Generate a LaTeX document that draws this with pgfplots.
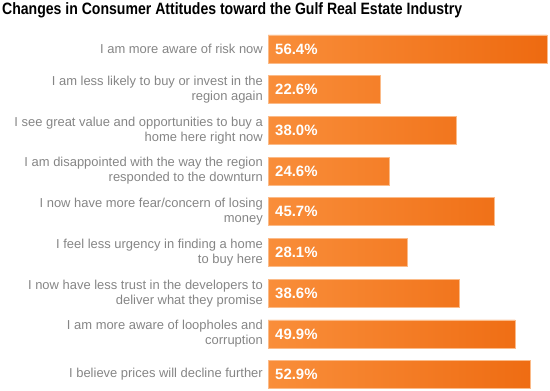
\documentclass[border=0pt]{standalone}
\usepackage{pgfplots}
\pgfplotsset{compat=1.18}
\usepackage{pgfplotstable}
\usepackage{fontspec}
\setmainfont{Liberation Sans}
\definecolor{barL}{HTML}{F98E3A}
\definecolor{barR}{HTML}{EE6A10}
\definecolor{lblgray}{HTML}{858585}
\pgfplotstableread{
idx val
0 56.4
1 22.6
2 38.0
3 24.6
4 45.7
5 28.1
6 38.6
7 49.9
8 52.9
}\datatable
\begin{document}
\begin{tikzpicture}
\useasboundingbox (0,0) rectangle (550bp,-391bp);
\node[anchor=base west, inner sep=0pt, font=\fontsize{16.5}{19}\selectfont\bfseries] at (2bp,-14bp)
  {\scalebox{0.855}[1]{Changes in Consumer Attitudes toward the Gulf Real Estate Industry}};
\begin{axis}[
  at={(268bp,-28.6bp)}, anchor=north west,
  scale only axis,
  width=279.2bp, height=362.3bp,
  xmin=0, xmax=56.4,
  ymin=-0.5, ymax=8.4,
  y dir=reverse,
  axis line style={draw=none},
  xtick=\empty,
  ytick={0,...,8},
  major tick length=0pt,
  yticklabel style={font=\fontsize{13}{15}\selectfont, text=lblgray, align=right, inner sep=0pt, xshift=-5bp},
  yticklabels={
    {I am more aware of risk now},
    {I am less likely to buy or invest in the\\region again},
    {I see great value and opportunities to buy a\\home here right now},
    {I am disappointed with the way the region\\responded to the downturn},
    {I now have more fear/concern of losing\\money},
    {I feel less urgency in finding a home\\to buy here},
    {I now have less trust in the developers to\\deliver what they promise},
    {I am more aware of loopholes and\\corruption},
    {I believe prices will decline further}},
  clip=false,
]
\addplot[xbar, bar width=28bp, draw=barL!60!white, line width=0.6pt, left color=barL, right color=barR] table[x=val, y=idx] {\datatable};
\addplot[draw=none, mark=none, nodes near coords={\pgfmathprintnumber[fixed, fixed zerofill, precision=1, assume math mode=true]{\pgfplotspointmeta}\%},
  every node near coord/.append style={anchor=west, text=white, font=\fontsize{15}{18}\selectfont\bfseries, inner sep=0pt, xshift=7bp},
  point meta=explicit] table[x expr=0, y=idx, meta=val] {\datatable};
\end{axis}
\end{tikzpicture}
\end{document}
